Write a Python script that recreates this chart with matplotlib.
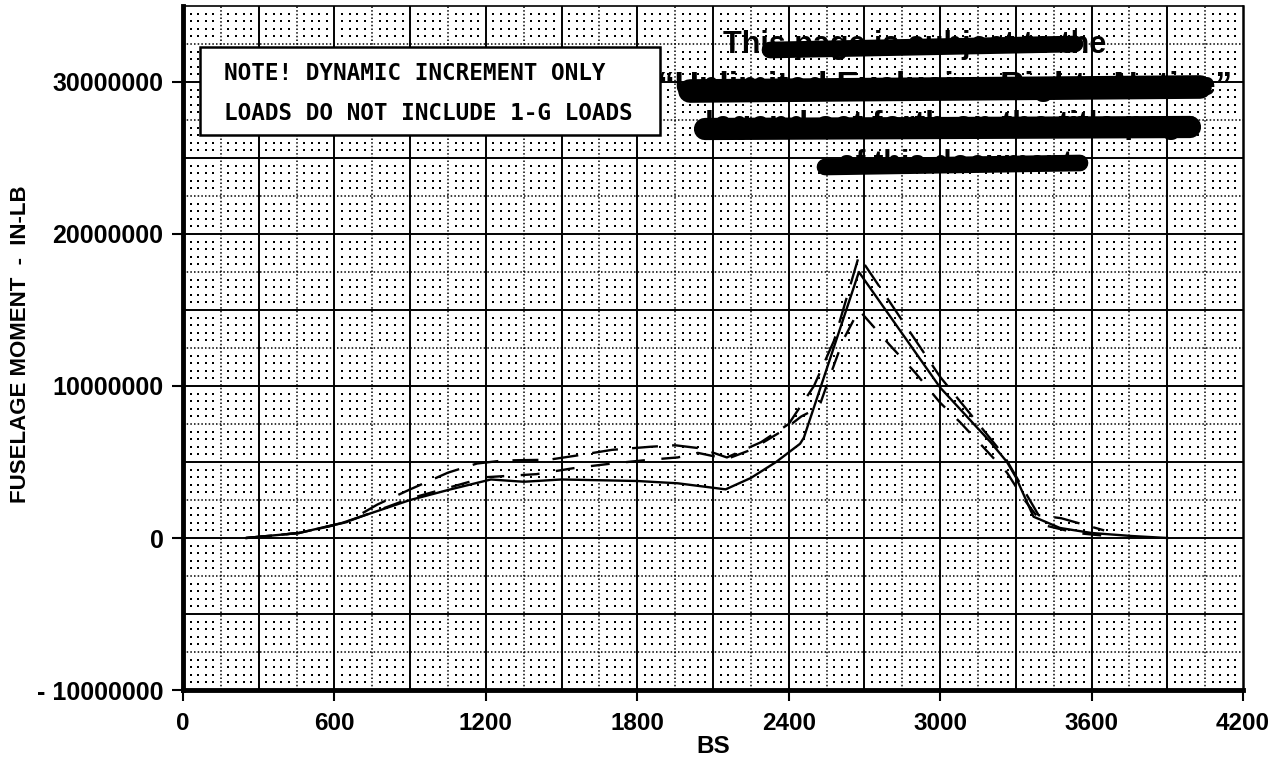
import numpy as np
import matplotlib
matplotlib.use('Agg')
import matplotlib.pyplot as plt
from matplotlib.patches import Rectangle

# ── Data (BS vs. fuselage moment, in-lb) ─────────────────────────────────────
solid_bs = [250, 460, 630, 900, 1060, 1220, 1350, 1500, 1800, 1960, 2150,
            2250, 2350, 2445, 2460, 2678, 3000, 3200, 3265, 3300, 3370,
            3475, 3600, 3760, 3900]
solid_m = [0, 0.33e6, 0.99e6, 2.5e6, 3.2e6, 3.85e6, 3.7e6, 3.85e6, 3.75e6,
           3.6e6, 3.2e6, 3.95e6, 5.0e6, 6.2e6, 6.6e6, 17.5e6, 9.9e6,
           6.3e6, 5.0e6, 4.0e6, 1.4e6, 0.66e6, 0.33e6, 0.13e6, 0]

long_bs = [250, 460, 650, 770, 900, 1050, 1165, 1270, 1450, 1550, 1700,
           1850, 1950, 2050, 2155, 2290, 2400, 2500, 2580, 2678, 3000,
           3250, 3390, 3480, 3650]
long_m = [0, 0.33e6, 1.05e6, 2.2e6, 3.2e6, 4.3e6, 4.9e6, 5.1e6, 5.15e6,
          5.4e6, 5.8e6, 6.0e6, 6.1e6, 5.9e6, 5.3e6, 6.3e6, 7.5e6, 10.0e6,
          13.0e6, 18.55e6, 10.6e6, 5.5e6, 1.5e6, 1.3e6, 0.5e6]

short_bs = [250, 460, 630, 900, 1200, 1400, 1550, 1700, 1850, 1960, 2040,
            2155, 2250, 2380, 2450, 2520, 2571, 2615, 2678, 2800, 2900,
            3000, 3080, 3265, 3330, 3410, 3540, 3650]
short_m = [0, 0.33e6, 0.95e6, 2.6e6, 4.0e6, 4.2e6, 4.6e6, 4.9e6, 5.15e6,
           5.3e6, 5.6e6, 5.2e6, 5.8e6, 7.1e6, 8.0e6, 8.6e6, 11.0e6, 13.0e6,
           15.0e6, 12.7e6, 10.9e6, 8.9e6, 7.6e6, 4.3e6, 2.6e6, 0.85e6,
           0.33e6, 0.15e6]

x_ticks = [0, 600, 1200, 1800, 2400, 3000, 3600, 4200]
y_ticks = [-10000000, 0, 10000000, 20000000, 30000000]
y_labels = ['- 10000000', '0', '10000000', '20000000', '30000000']

note_lines = ["NOTE! DYNAMIC INCREMENT ONLY", "LOADS DO NOT INCLUDE 1-G LOADS"]
stamp_lines = ["This page is subject to the",
               "\u201cUnlimited Exclusive Rights Notice\u201d",
               "legend set forth on the title page",
               "of this document"]

# ── Figure ───────────────────────────────────────────────────────────────────
W, H = 1288, 759
fig = plt.figure(figsize=(W / 100, H / 100), dpi=100)
ax = fig.add_axes([183 / W, 1 - 690 / H, (1243 - 183) / W, (690 - 6) / H])
ax.set_xlim(0, 4200)
ax.set_ylim(-10e6, 35e6)

lab_font = ['Liberation Sans', 'DejaVu Sans']

# graph-paper background: dots, dotted lines, solid lines
gx = np.arange(0, 4201, 30)
gy = np.arange(-10e6, 35e6 + 1, 0.5e6)
XX, YY = np.meshgrid(gx, gy)
on_line = (np.isclose(XX % 150, 0)) | (np.isclose(YY % 2.5e6, 0))
ax.scatter(XX[~on_line], YY[~on_line], s=2.2, marker='s', c='black',
           linewidths=0, zorder=1)
for xv in np.arange(150, 4200, 300):
    ax.axvline(xv, color='black', lw=1.1, ls=(0, (1, 1.4)), zorder=1)
for yv in np.arange(-7.5e6, 35e6, 5e6):
    ax.axhline(yv, color='black', lw=1.1, ls=(0, (1, 1.4)), zorder=1)
for xv in np.arange(300, 4200, 300):
    ax.axvline(xv, color='black', lw=1.4, zorder=1)
for yv in np.arange(-5e6, 35e6, 5e6):
    ax.axhline(yv, color='black', lw=1.4, zorder=1)

# curves
ax.plot(solid_bs, solid_m, color='black', lw=1.7, zorder=4)
ax.plot(long_bs, long_m, color='black', lw=1.7, ls=(0, (11, 6)), zorder=4)
ax.plot(short_bs, short_m, color='black', lw=1.7, ls=(0, (8, 7)), zorder=4)

# spines & ticks
ax.spines['left'].set_linewidth(3.5)
ax.spines['bottom'].set_linewidth(3.5)
ax.spines['top'].set_linewidth(1.2)
ax.spines['right'].set_linewidth(1.8)
ax.set_xticks(x_ticks)
ax.set_yticks(y_ticks)
ax.set_xticklabels([str(v) for v in x_ticks], fontsize=17.5,
                   fontweight='bold', family=lab_font)
ax.set_yticklabels(y_labels, fontsize=18, fontweight='bold', family=lab_font)
ax.tick_params(axis='x', length=8, width=1.5, pad=8, direction='out')
ax.tick_params(axis='y', length=8, width=1.5, pad=6, direction='out')
ax.set_xlabel("BS", fontsize=17.5, fontweight='bold', family=lab_font,
              labelpad=0)
fig.text(21 / W, 1 - 344 / H, "FUSELAGE MOMENT  -  IN-LB", fontsize=16,
         fontweight='bold', family=lab_font, rotation=90,
         ha='center', va='center')

# note box
fig.add_artist(Rectangle((200 / W, 1 - 135 / H), 460 / W, 88 / H,
                         transform=fig.transFigure, fc='white', ec='black',
                         lw=1.8, zorder=6))
for txt, ty in zip(note_lines, [73, 113]):
    fig.text(224 / W, 1 - ty / H, txt, fontsize=16.3, fontweight='bold',
             family='DejaVu Sans Mono', va='center', ha='left', zorder=7)

# redacted stamp: text with heavy marker strokes over it
stamp_y = [45, 86, 125, 163]
stamp_x = [915, 945, 952, 955]
stamp_fs = [22, 24, 23, 21]
for txt, sx, sy, fs in zip(stamp_lines, stamp_x, stamp_y, stamp_fs):
    fig.text(sx / W, 1 - sy / H, txt, fontsize=fs, fontweight='bold',
             family=lab_font, ha='center', va='center', zorder=7)
strokes = [((770, 50), (1075, 44), 12), ((690, 91), (1200, 87), 17),
           ((705, 129), (1190, 127), 16), ((825, 167), (1080, 163), 12)]
for (x0, y0), (x1, y1), w in strokes:
    fig.add_artist(plt.Line2D([x0 / W, x1 / W], [1 - y0 / H, 1 - y1 / H],
                              color='black', lw=w, solid_capstyle='round',
                              zorder=8))

fig.savefig("out.png", dpi=100)
